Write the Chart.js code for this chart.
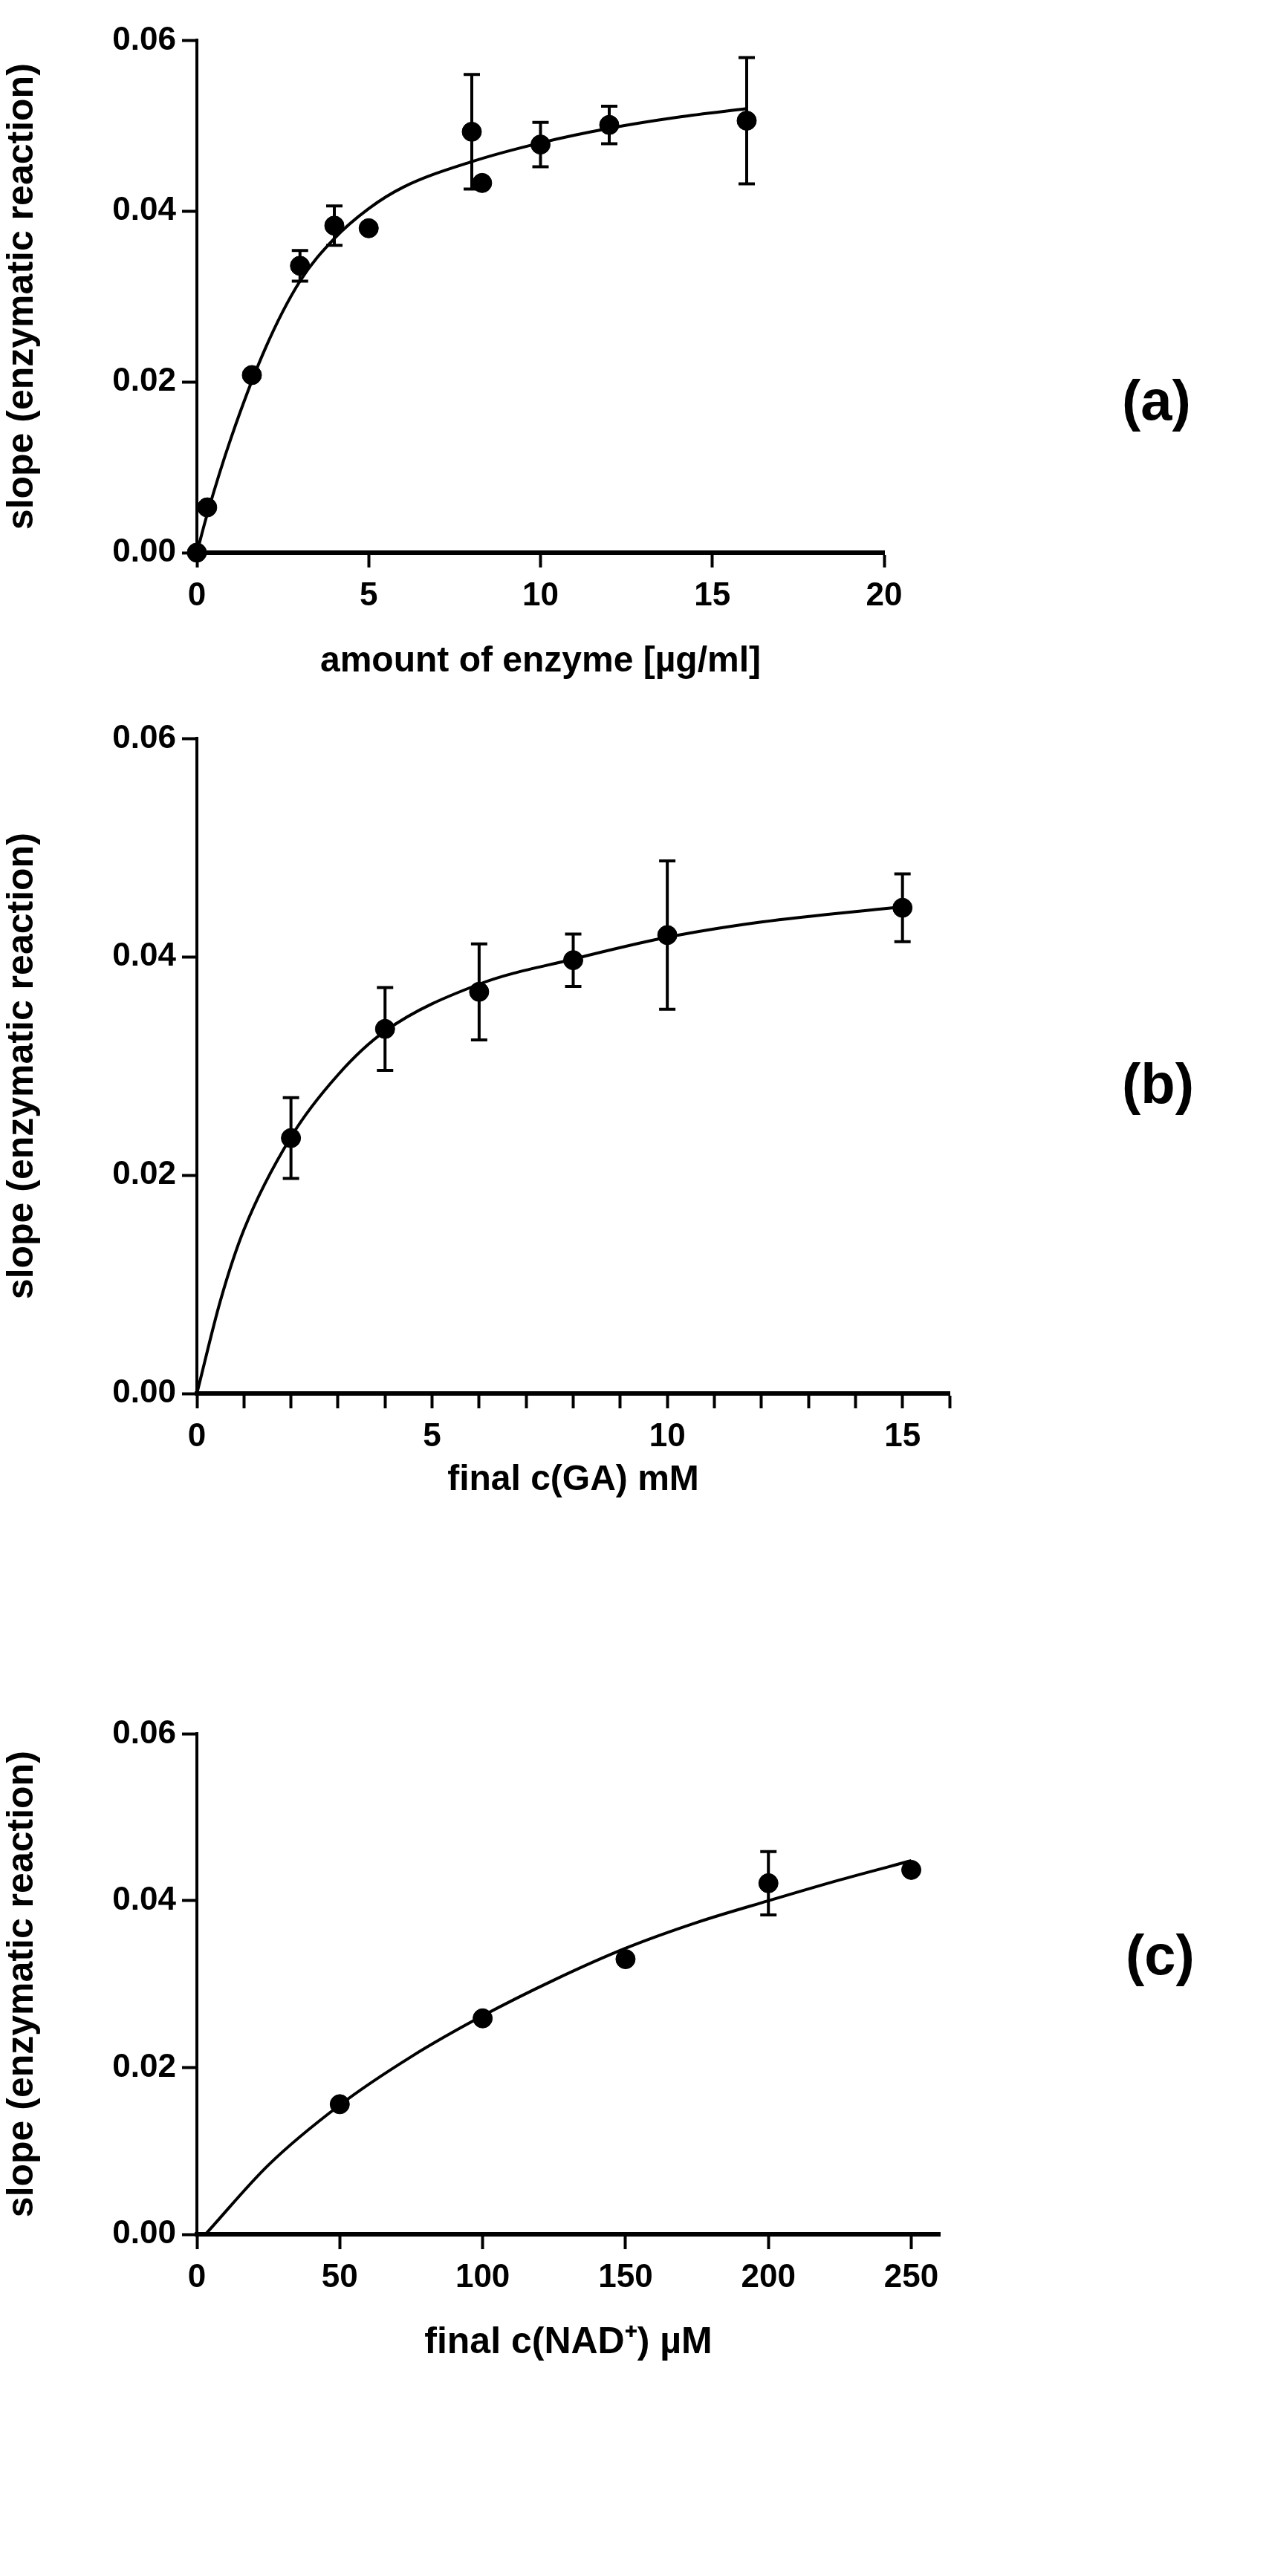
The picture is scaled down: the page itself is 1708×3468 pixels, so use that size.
<!DOCTYPE html>
<html><head><meta charset="utf-8">
<script src="https://cdn.jsdelivr.net/npm/chart.js@4"></script>
<style>
body{margin:0;background:#fff;width:1708px;height:3468px;position:relative;overflow:hidden}
canvas{position:absolute}
.lab{position:absolute;font:bold 76px "Liberation Sans",Arial,sans-serif;color:#000}
</style></head><body>
<div style="position:absolute;left:0;top:20px;width:1320px;height:904px"><canvas id="ca"></canvas></div>
<div style="position:absolute;left:0;top:960px;width:1320px;height:1066px"><canvas id="cb"></canvas></div>
<div style="position:absolute;left:0;top:2300px;width:1320px;height:888px"><canvas id="cc"></canvas></div>
<div class="lab" style="left:1510px;top:495px">(a)</div>
<div class="lab" style="left:1510px;top:1415px">(b)</div>
<div class="lab" style="left:1515px;top:2588px">(c)</div>
<script>
const aX=[0,0.3,1.6,3,4,5,8,8.3,10,12,16];
const aY=[0,0.0053,0.0208,0.0336,0.0383,0.0380,0.0493,0.0433,0.0478,0.0501,0.0506];
const aErr=[0,0,0,0.0018,0.0023,0,0.0067,0,0.0026,0.0022,0.0074];
const aFitX=[0,0.3,1,2,3,4,5,6,8,10,12,14,16];
const aFitY=[0,0.0045,0.0135,0.0240,0.0318,0.0368,0.0403,0.0428,0.0458,0.0480,0.0497,0.0510,0.0520];
const aTicks=[0,5,10,15,20];

const bX=[2,4,6,8,10,15];
const bY=[0.0234,0.0334,0.0368,0.0397,0.0420,0.0445];
const bErr=[0.0037,0.0038,0.0044,0.0024,0.0068,0.0031];
const bFitX=[0,0.5,1,2,3,4,6,8,10,12,15];
const bFitY=[0,0.0085,0.0150,0.0235,0.0292,0.0332,0.0375,0.0398,0.0418,0.0432,0.0446];
const bTicks=[0,1,2,3,4,5,6,7,8,9,10,11,12,13,14,15,16];

const cX=[50,100,150,200,250];
const cY=[0.0156,0.0259,0.0330,0.0421,0.0437];
const cErr=[0,0,0,0.0038,0];
const cFitX=[3,25,50,75,100,125,150,175,200,225,250];
const cFitY=[0,0.0083,0.0155,0.0213,0.0262,0.0305,0.0343,0.0374,0.0400,0.0425,0.0448];
const cTicks=[0,50,100,150,200,250];

const yTicks=[0,0.02,0.04,0.06];
const narrow='"Liberation Sans Narrow","Liberation Sans",Arial,sans-serif';

const errPlugin={id:'err',afterDatasetsDraw(ch){
  const errs=ch.options.plugins.err.values;const ds=ch.data.datasets[1].data;
  const x=ch.scales.x,y=ch.scales.y,c=ch.ctx;c.save();c.strokeStyle='#000';c.lineWidth=4;
  ds.forEach((p,i)=>{const e=errs[i];if(!e)return;const px=x.getPixelForValue(p.x);
    const t=y.getPixelForValue(p.y+e),b=y.getPixelForValue(p.y-e);
    c.beginPath();c.moveTo(px,t);c.lineTo(px,b);c.moveTo(px-11,t);c.lineTo(px+11,t);c.moveTo(px-11,b);c.lineTo(px+11,b);c.stroke();});
  c.restore();}};

function make(id,xs,ys,errs,fx,fy,xmax,xticks,title,titleSize,padR,padT,xh,labelEvery){
  new Chart(document.getElementById(id),{
    data:{datasets:[
      {type:'line',data:fx.map((v,i)=>({x:v,y:fy[i]})),borderColor:'#000',borderWidth:4,pointRadius:0,cubicInterpolationMode:'monotone',fill:false},
      {type:'scatter',data:xs.map((v,i)=>({x:v,y:ys[i]})),backgroundColor:'#000',borderColor:'#000',pointRadius:13}
    ]},
    options:{responsive:true,maintainAspectRatio:false,animation:false,clip:false,
      layout:{padding:{left:0,right:padR,top:padT,bottom:0}},
      plugins:{legend:{display:false},tooltip:{enabled:false},err:{values:errs}},
      scales:{
        x:{type:'linear',min:0,max:xmax,afterFit:s=>{s.height=xh;},
          afterBuildTicks:s=>{s.ticks=xticks.map(v=>({value:v}));},
          ticks:{color:'#000',padding:12,autoSkip:false,maxRotation:0,font:{family:narrow,size:44,weight:'bold'},
            callback:v=>(v%labelEvery===0?v:'')},
          grid:{drawOnChartArea:false,tickLength:20,tickColor:'#000',tickWidth:4},
          border:{color:'#000',width:6},
          title:{display:true,text:title,color:'#000',padding:{top:26},font:{family:narrow,size:titleSize,weight:'bold'}}},
        y:{type:'linear',min:0,max:0.06,afterFit:s=>{s.width=265;},
          afterBuildTicks:s=>{s.ticks=yTicks.map(v=>({value:v}));},
          ticks:{color:'#000',padding:8,font:{family:narrow,size:44,weight:'bold'},callback:v=>v.toFixed(2)},
          grid:{drawOnChartArea:false,tickLength:20,tickColor:'#000',tickWidth:4},
          border:{color:'#000',width:4},
          title:{display:true,text:'slope (enzymatic reaction)',color:'#000',padding:{top:0,bottom:4},font:{family:'"Liberation Sans",Arial,sans-serif',size:50,weight:'bold'}}}
      }},
    plugins:[errPlugin]});
}
make('ca',aX,aY,aErr,aFitX,aFitY,20,aTicks,'amount of enzyme [µg/ml]',48,130,29,180,5);
make('cb',bX,bY,bErr,bFitX,bFitY,16,bTicks,'final c(GA) mM',48,42,28,150,5);
make('cc',cX,cY,cErr,cFitX,cFitY,260,cTicks,'final c(NAD⁺) µM',50,55,29,180,50);
</script></body></html>
